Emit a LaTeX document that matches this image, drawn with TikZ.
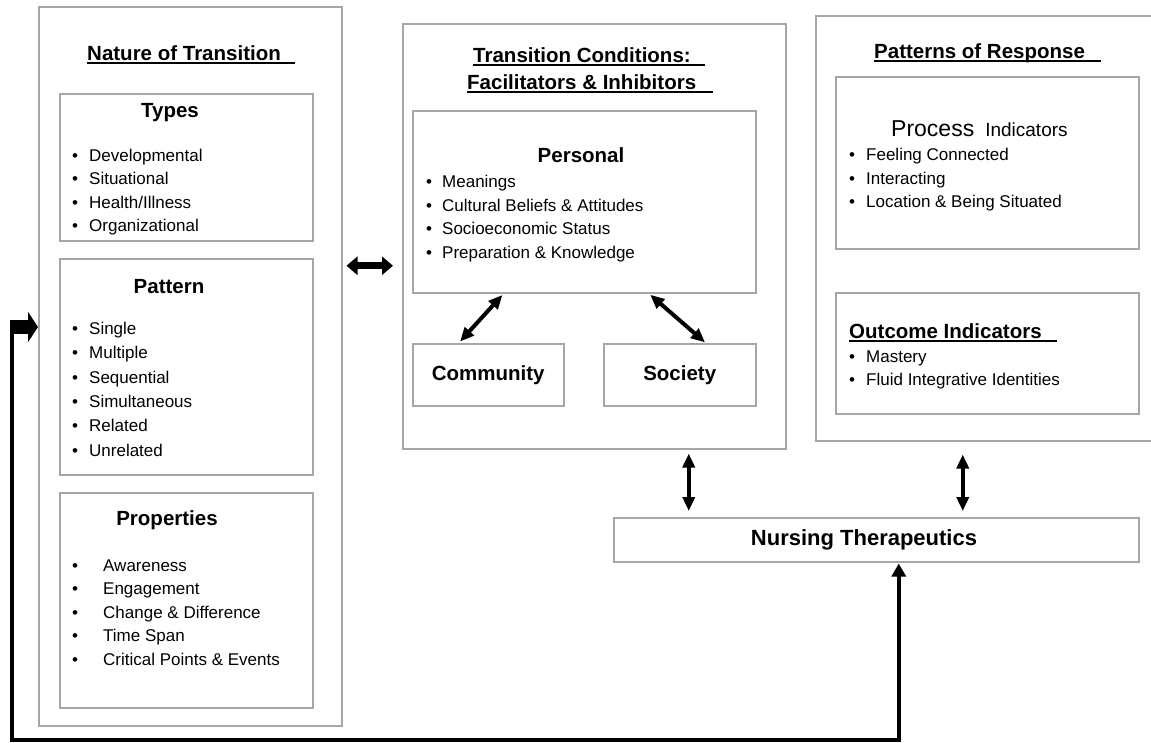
\documentclass[tikz,border=0pt]{standalone}
\usepackage{fontspec}
\setmainfont{Liberation Sans}
\usetikzlibrary{arrows.meta}

\newcommand{\bul}[1]{\makebox[#1][l]{\textbullet}}
\newcommand{\ulhead}[2][14pt]{\setbox0\hbox{#2}\rlap{\rule[-3.5pt]{\dimexpr\wd0+#1\relax}{1.6pt}}\box0}

\begin{document}
\begin{tikzpicture}[x=1pt, y=-1pt,
    box/.style={draw=black!35, line width=1.5pt, inner sep=0pt, anchor=north west},
    boxtitle/.style={font=\fontsize{20.5}{24}\selectfont\bfseries, inner sep=0pt},
    item/.style={font=\fontsize{17}{20}\selectfont, inner sep=0pt, anchor=base west},
    dbl/.style={line width=4pt, {Triangle[length=14pt,width=12pt]}-{Triangle[length=14pt,width=12pt]}},
    fatdbl/.style={line width=7pt, {Triangle[length=11pt,width=18pt]}-{Triangle[length=11pt,width=18pt]}},
    feedback/.style={line width=4.5pt, line join=miter, {Triangle[length=13pt,width=14pt]}-},
    fatarrow/.style={line width=14pt, -{Triangle[length=10pt,width=30pt]}},
  ]
    \useasboundingbox (0,0) rectangle (1151,742);

    % boxes
    \node[box, minimum width=303, minimum height=719] (nature) at (38,6) {};
    \node[box, minimum width=253, minimum height=147] (types) at (59,93) {};
    \node[box, minimum width=253, minimum height=216] (pattern) at (59,258) {};
    \node[box, minimum width=253, minimum height=215] (props) at (59,492) {};
    \node[box, minimum width=383, minimum height=425] (cond) at (402,23) {};
    \node[box, minimum width=343, minimum height=182] (personal) at (412,110) {};
    \node[box, boxtitle, minimum width=151, minimum height=62] (community) at (412,343) {Community};
    \node[box, boxtitle, minimum width=152, minimum height=62] (society) at (603,343) {Society};
    \node[box, minimum width=345, minimum height=425] (response) at (815,15) {};
    \node[box, minimum width=303, minimum height=172] (process) at (835,76) {};
    \node[box, minimum width=303, minimum height=121] (outcome) at (835,292) {};
    \node[box, minimum width=525, minimum height=44] (nursing) at (613,517) {};

    % titles
    \node[boxtitle, anchor=base west] (naturetitle) at (87,60.5) {\ulhead{Nature of Transition}};
    \node[boxtitle, anchor=base] (typestitle) at (170,117) {Types};
    \node[boxtitle, anchor=base] (patterntitle) at (169,293.5) {Pattern};
    \node[boxtitle, anchor=base] (propstitle) at (167,525) {Properties};
    \node[boxtitle, anchor=base west] (condtitle) at (473,62.5) {\ulhead{Transition Conditions:}};
    \node[boxtitle, anchor=base west] (condsubtitle) at (467,89.5) {\ulhead[17pt]{Facilitators \& Inhibitors}};
    \node[boxtitle, anchor=base] (personaltitle) at (581,162) {Personal};
    \node[boxtitle, anchor=base west] (responsetitle) at (874,58) {\ulhead[16pt]{Patterns of Response}};
    \node[inner sep=0pt, anchor=base west] (processtitle) at (891,136)
        {{\fontsize{23}{26}\selectfont Process}\hspace{11pt}{\fontsize{19}{22}\selectfont Indicators}};
    \node[boxtitle, anchor=base west] (outcometitle) at (849,338.5) {\ulhead[15pt]{Outcome Indicators}};
    \node[boxtitle, font=\fontsize{22}{26}\selectfont\bfseries] (nursingtitle) at (864,540) {Nursing Therapeutics};

    % bullet lists
    \foreach \txt [count=\i from 0] in {Developmental, Situational, Health/Illness, Organizational}
        \node[item] (type\i) at (72,{161+23.5*\i}) {\bul{17pt}\txt};
    \foreach \txt [count=\i from 0] in {Single, Multiple, Sequential, Simultaneous, Related, Unrelated}
        \node[item] (pat\i) at (72,{334.5+24.3*\i}) {\bul{17pt}\txt};
    \foreach \txt [count=\i from 0] in {Awareness, Engagement, Change \& Difference, Time Span, Critical Points \& Events}
        \node[item] (prop\i) at (72,{571+23.5*\i}) {\bul{31pt}\txt};
    \foreach \txt [count=\i from 0] in {Meanings, Cultural Beliefs \& Attitudes, Socioeconomic Status, Preparation \& Knowledge}
        \node[item] (pers\i) at (426,{187.5+23.67*\i}) {\bul{16pt}\txt};
    \foreach \txt [count=\i from 0] in {Feeling Connected, Interacting, Location \& Being Situated}
        \node[item] (proc\i) at (849,{160.5+23.5*\i}) {\bul{17pt}\txt};
    \foreach \txt [count=\i from 0] in {Mastery, Fluid Integrative Identities}
        \node[item] (out\i) at (849,{362+23.5*\i}) {\bul{17pt}\txt};

    % arrows
    \coordinate (linkl) at ([yshift=100.5pt]nature.east);
    \draw[fatdbl, shorten <=4pt, shorten >=9pt] (linkl) -- (linkl -| cond.west);

    \draw[dbl, shorten <=2pt, shorten >=2pt] ([xshift=-80.5pt]personal.south) -- ([xshift=-29.5pt]community.north);
    \draw[dbl, shorten <=2pt, shorten >=1pt] ([xshift=64.5pt]personal.south) -- ([xshift=26pt]society.north);

    \coordinate (condlink) at ([xshift=94.5pt]cond.south);
    \draw[dbl, shorten <=4pt, shorten >=6pt] (condlink) -- (condlink |- nursing.north);
    \coordinate (resplink) at ([xshift=-25.5pt]response.south);
    \draw[dbl, shorten <=13pt, shorten >=6pt] (resplink) -- (resplink |- nursing.north);

    % feedback loop back to the nature of transition
    \coordinate (loopbottom) at (12,740);
    \coordinate (loopleft) at (12,327);
    \draw[feedback, shorten <=1pt] ([xshift=22.5pt]nursing.south) |- (loopbottom) -- (loopleft);
    \draw[fatarrow] ([xshift=-2.25pt]loopleft) -- (loopleft -| nature.west);
\end{tikzpicture}
\end{document}
